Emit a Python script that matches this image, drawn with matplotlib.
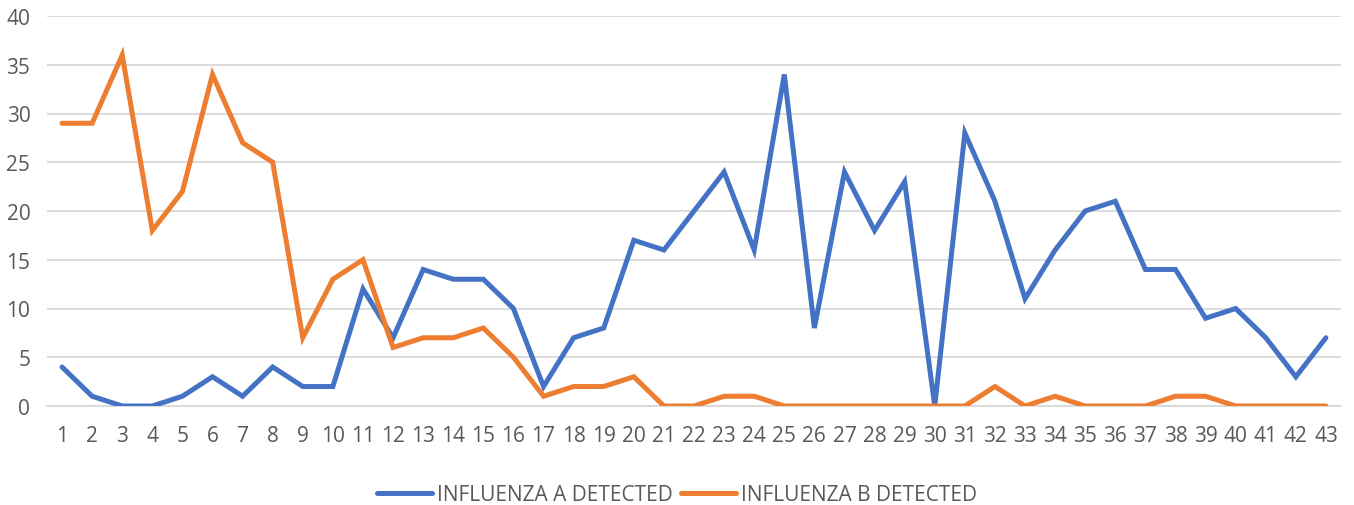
import matplotlib
matplotlib.use("Agg")
import matplotlib.pyplot as plt

weeks = list(range(1, 44))
flu_a = [4, 1, 0, 0, 1, 3, 1, 4, 2, 2, 12, 7, 14, 13, 13, 10, 2, 7, 8, 17,
         16, 20, 24, 16, 34, 8, 24, 18, 23, 0, 28, 21, 11, 16, 20, 21, 14, 14,
         9, 10, 7, 3, 7]
flu_b = [29, 29, 36, 18, 22, 34, 27, 25, 7, 13, 15, 6, 7, 7, 8, 5, 1, 2, 2, 3,
         0, 0, 1, 1, 0, 0, 0, 0, 0, 0, 0, 2, 0, 1, 0, 0, 0, 1, 1, 0, 0, 0, 0]
labels = ["INFLUENZA A DETECTED", "INFLUENZA B DETECTED"]
y_ticks = [0, 5, 10, 15, 20, 25, 30, 35, 40]

plt.rcParams['font.family'] = ['Open Sans', 'DejaVu Sans']
fig = plt.figure(figsize=(13.54, 5.06), dpi=100)
ax = fig.add_axes([47/1354, 1-407/506, (1341-47)/1354, (407-17)/506])

ax.plot(weeks, flu_a, color="#4472C4", lw=3.6, label=labels[0], solid_joinstyle='miter', solid_capstyle='round', zorder=3)
ax.plot(weeks, flu_b, color="#ED7D31", lw=3.6, label=labels[1], solid_joinstyle='miter', solid_capstyle='round', zorder=3)

ax.set_xlim(0.5, 43.5)
ax.set_ylim(0, 40)
ax.set_yticks(y_ticks)
ax.set_xticks(weeks)
ax.set_xticklabels([str(w) for w in weeks])
ax.grid(axis='y', color="#D9D9D9", lw=1.3, zorder=0)
ax.set_axisbelow(True)
for s in ["top", "right", "left"]:
    ax.spines[s].set_visible(False)
ax.spines["bottom"].set_color("#D9D9D9")
ax.spines["bottom"].set_linewidth(1.3)
ax.tick_params(axis='both', length=0, labelsize=15, labelcolor="#595959")
ax.tick_params(axis='x', pad=14)
ax.tick_params(axis='y', pad=12)

leg = fig.legend(loc='center', bbox_to_anchor=(0.5, 1-496/506), ncol=2, frameon=False,
                 fontsize=15, handlelength=2.65, columnspacing=0.38, handletextpad=0.24)
for t in leg.get_texts():
    t.set_color("#595959")

fig.savefig("out.png", dpi=100)
